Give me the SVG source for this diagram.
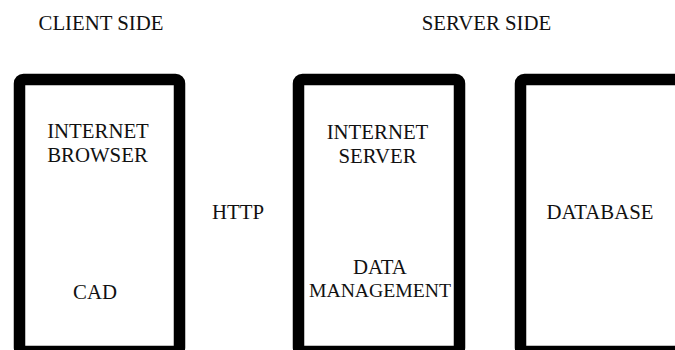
<svg xmlns="http://www.w3.org/2000/svg" width="675" height="350" viewBox="0 0 675 350">
<style>
.box{fill:#fff;stroke:#000;stroke-width:11.5}
text{font-family:'Liberation Serif','Times New Roman',Times,serif;font-size:20.8px;fill:#111;text-anchor:middle}
</style>
<rect width="675" height="350" fill="#fff"/>
<text x="101" y="29.5">CLIENT SIDE</text>
<text x="486.5" y="29.5">SERVER SIDE</text>
<g id="client">
<rect class="box" x="19.5" y="79.5" width="160" height="272" rx="4"/>
<text x="98" y="138">INTERNET</text>
<text x="97.5" y="162">BROWSER</text>
<text x="95" y="298.5">CAD</text>
</g>
<g id="server">
<rect class="box" x="298.5" y="79.5" width="161" height="272" rx="4"/>
<text x="377.5" y="139">INTERNET</text>
<text x="377.5" y="163">SERVER</text>
<text x="380" y="274">DATA</text>
<text x="380" y="297" style="font-size:19.7px">MANAGEMENT</text>
</g>
<g id="database">
<rect class="box" x="520.5" y="79.5" width="200" height="272" rx="4"/>
<text x="600" y="218.5">DATABASE</text>
</g>
<g id="connectors">
<text x="238" y="218.5">HTTP</text>
</g>
</svg>
